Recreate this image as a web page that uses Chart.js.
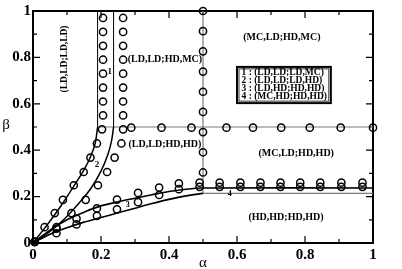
<!DOCTYPE html>
<html><head><meta charset="utf-8">
<script src="https://cdn.jsdelivr.net/npm/chart.js@4"></script>
<style>html,body{margin:0;padding:0;background:#fff;}</style>
</head><body>
<canvas id="c" width="402" height="269"></canvas>
<script>
// ---------- data ----------
const xTickLabels = ['0','0.2','0.4','0.6','0.8','1'];
const yTickLabels = ['0','0.2','0.4','0.6','0.8','1'];

// boundary curves (black)
const curve1A = [0,0.04,0.08,0.12,0.15,0.17,0.183,0.19];
const curve1B = [0,0.075,0.155,0.245,0.315,0.375,0.43,0.5];
const curve1VertA = [0.19,0.19];
const curve1VertB = [0.5,1.0];
const curve2A = [0,0.05,0.09,0.14,0.17,0.2,0.22,0.231,0.237];
const curve2B = [0,0.05,0.1,0.18,0.235,0.31,0.38,0.44,0.5];
const curve2VertA = [0.237,0.237];
const curve2VertB = [0.5,1.0];
const curve4A = [0,0.05,0.1,0.15,0.2,0.25,0.3,0.35,0.4,0.45,0.5,1.0];
const curve4B = [0,0.055,0.1,0.133,0.16,0.178,0.193,0.208,0.222,0.232,0.237,0.237];
const curve3A = [0,0.05,0.1,0.15,0.2,0.25,0.3,0.35,0.4,0.45,0.5];
const curve3B = [0,0.038,0.066,0.09,0.11,0.13,0.15,0.17,0.188,0.203,0.214];

// grey lines
const greyVA = [0.5,0.5],   greyVB = [0.214,1.0];
const greyH1A = [0.19,1.0], greyH1B = [0.5,0.5];
const greyH2A = [0.5,1.0],  greyH2B = [0.214,0.214];

// simulation points (circles)
const sim1A = [0.005,0.034,0.064,0.088,0.12,0.149,0.169,0.188,0.203,0.206,0.206,0.206,0.206,0.206,0.206,0.206,0.206];
const sim1B = [0.005,0.068,0.129,0.186,0.249,0.306,0.368,0.429,0.49,0.55,0.61,0.67,0.73,0.79,0.85,0.91,0.97];
const sim2A = [0.005,0.069,0.113,0.155,0.191,0.218,0.24,0.26,0.265,0.265,0.265,0.265,0.265,0.265,0.265,0.265,0.265];
const sim2B = [0.005,0.068,0.129,0.186,0.249,0.306,0.368,0.429,0.49,0.55,0.61,0.67,0.73,0.79,0.85,0.91,0.97];
const sim34A = [0.005,0.069,0.128,0.188,0.247,0.309,0.371,0.429,0.49,0.549,0.61,0.669,0.728,0.786,0.845,0.907,0.969];
const sim4B = [0.005,0.062,0.105,0.149,0.187,0.216,0.239,0.257,0.26,0.26,0.26,0.26,0.26,0.26,0.26,0.26,0.26];
const sim3B = [0.005,0.042,0.08,0.117,0.145,0.176,0.207,0.232,0.242,0.242,0.242,0.242,0.242,0.242,0.242,0.242,0.242];
const simColA = [0.5,0.5,0.5,0.5,0.5,0.5,0.5,0.5,0.5];
const simColB = [1.0,0.913,0.826,0.739,0.652,0.565,0.478,0.391,0.304];
const simRowA = [0.289,0.378,0.466,0.569,0.647,0.73,0.814,0.905,1.0];
const simRowB = [0.497,0.497,0.497,0.497,0.497,0.497,0.497,0.497,0.497];

// phase labels
const regionLabels = [
  {t:'(LD,LD;LD,LD)', a:0.094, b:0.793, rot:true},
  {t:'(LD,LD;HD,MC)', a:0.388, b:0.793},
  {t:'(MC,LD;HD,MC)', a:0.732, b:0.886},
  {t:'(LD,LD;HD,HD)', a:0.388, b:0.426},
  {t:'(MC,LD;HD,HD)', a:0.774, b:0.384},
  {t:'(HD,HD;HD,HD)', a:0.744, b:0.110}
];
const curveNumbers = [
  {t:'1', a:0.226, b:0.738, s:9},
  {t:'2', a:0.188, b:0.338, s:9},
  {t:'3', a:0.279, b:0.165, s:8},
  {t:'4', a:0.579, b:0.213, s:8}
];
const legendLines = ['1 : (LD,LD;LD,MC)','2 : (LD,LD;LD,HD)','3 : (LD,HD;HD,HD)','4 : (MC,HD;HD,HD)'];

// ---------- build ----------
const pts = (A,B) => A.map((v,i)=>({x:v,y:B[i]}));
const lineDs = (A,B,color,w,tension) => ({type:'line',data:pts(A,B),borderColor:color,borderWidth:w,
  pointRadius:0,showLine:true,fill:false,tension:tension||0,clip:false});
const circDs = (A,B) => ({type:'scatter',data:pts(A,B),pointStyle:'circle',pointRadius:3.6,
  pointBorderWidth:1.5,pointBorderColor:'#000',pointBackgroundColor:'rgba(0,0,0,0)',showLine:false,clip:false});

const SERIF = '"Liberation Serif","DejaVu Serif",serif';

const decor = {
  id:'decor',
  beforeDatasetsDraw(chart){
    const {ctx, chartArea:ca, scales:{x,y}} = chart;
    ctx.save();
    ctx.strokeStyle='#000';
    // ticks inward on all four sides
    ctx.lineWidth=1.2;
    for(let i=0;i<=10;i++){
      const v=i/10, major=(i%2===0), L=major?7:4;
      const px=x.getPixelForValue(v), py=y.getPixelForValue(v);
      ctx.beginPath();
      ctx.moveTo(px,ca.bottom); ctx.lineTo(px,ca.bottom-L);
      ctx.moveTo(px,ca.top); ctx.lineTo(px,ca.top+L);
      ctx.moveTo(ca.left,py); ctx.lineTo(ca.left+L,py);
      ctx.moveTo(ca.right,py); ctx.lineTo(ca.right-L,py);
      ctx.stroke();
    }
    ctx.lineWidth=2;
    ctx.strokeRect(ca.left,ca.top,ca.right-ca.left,ca.bottom-ca.top);
    ctx.restore();
  },
  afterDatasetsDraw(chart){
    const {ctx, chartArea:ca, scales:{x,y}} = chart;
    ctx.save();
    ctx.fillStyle='#000';
    ctx.textAlign='center'; ctx.textBaseline='middle';
    ctx.font='bold 10px '+SERIF;
    regionLabels.forEach(l=>{
      const px=x.getPixelForValue(l.a), py=y.getPixelForValue(l.b);
      if(l.rot){
        ctx.save(); ctx.translate(px,py); ctx.rotate(-Math.PI/2);
        ctx.font='bold 9.5px '+SERIF; ctx.fillText(l.t,0,0); ctx.restore();
      } else ctx.fillText(l.t,px,py);
    });
    curveNumbers.forEach(l=>{
      ctx.font='bold '+l.s+'px '+SERIF;
      ctx.fillText(l.t,x.getPixelForValue(l.a),y.getPixelForValue(l.b));
    });
    // legend box
    const bx0=x.getPixelForValue(0.6), bx1=x.getPixelForValue(0.876);
    const by0=y.getPixelForValue(0.759), by1=y.getPixelForValue(0.603);
    ctx.fillStyle='#fff';
    ctx.fillRect(bx0,by0,bx1-bx0,by1-by0);
    ctx.strokeStyle='#000'; ctx.lineWidth=2;
    ctx.strokeRect(bx0,by0,bx1-bx0,by1-by0);
    ctx.lineWidth=0.8;
    ctx.strokeRect(bx0+2,by0+2,bx1-bx0-4,by1-by0-4);
    ctx.fillStyle='#000';
    ctx.textAlign='left';
    ctx.font='bold 9.5px '+SERIF;
    legendLines.forEach((t,i)=>{
      ctx.fillText(t,bx0+4.5,by0+5.8+i*7.8);
    });
    // axis titles
    ctx.textAlign='center';
    ctx.font='15px '+SERIF;
    ctx.fillText('α',(ca.left+ca.right)/2,263);
    ctx.fillText('β',6,125);
    ctx.restore();
  }
};

const tickCb = labels => (v)=>{ const k=Math.round(v*10); return (k%2===0)? labels[k/2] : ''; };

new Chart(document.getElementById('c'),{
  data:{datasets:[
    circDs(sim1A,sim1B), circDs(sim2A,sim2B), circDs(sim34A,sim4B), circDs(sim34A,sim3B),
    circDs(simColA,simColB), circDs(simRowA,simRowB),
    lineDs(curve1A,curve1B,'#000',1.5,0.3), lineDs(curve1VertA,curve1VertB,'#000',1),
    lineDs(curve2A,curve2B,'#000',1.5,0.3), lineDs(curve2VertA,curve2VertB,'#000',1),
    lineDs(curve4A,curve4B,'#000',1.6,0.3), lineDs(curve3A,curve3B,'#000',1.6,0.3),
    lineDs(greyVA,greyVB,'#7a7a7a',1.2), lineDs(greyH1A,greyH1B,'#7a7a7a',1.2), lineDs(greyH2A,greyH2B,'#7a7a7a',1.2)
  ]},
  options:{
    responsive:false, animation:false, devicePixelRatio:1,
    layout:{padding:{top:6,right:29,left:0,bottom:0}},
    plugins:{legend:{display:false},tooltip:{enabled:false}},
    scales:{
      x:{type:'linear',min:0,max:1,
        grid:{display:false,drawTicks:false},border:{display:false},
        ticks:{stepSize:0.1,autoSkip:false,maxRotation:0,padding:3,color:'#000',
          font:{family:SERIF,size:15,weight:'bold'},callback:tickCb(xTickLabels)},
        afterFit(s){s.height=26;}},
      y:{type:'linear',min:0,max:1,
        grid:{display:false,drawTicks:false},border:{display:false},
        ticks:{stepSize:0.1,autoSkip:false,padding:2,color:'#000',
          font:{family:SERIF,size:15,weight:'bold'},callback:tickCb(yTickLabels)},
        afterFit(s){s.width=33;}}
    }
  },
  plugins:[decor]
});
</script></body></html>
